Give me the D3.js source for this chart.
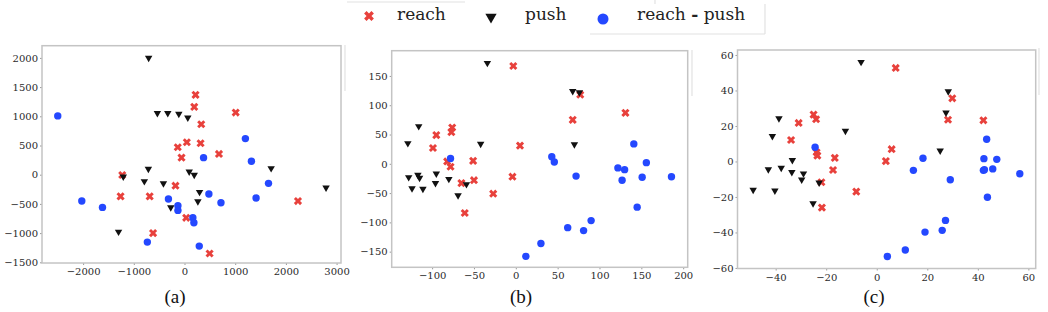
<!DOCTYPE html>
<meta charset="utf-8" />
<script src="https://cdn.jsdelivr.net/npm/d3@7"></script>
<style>
  body { margin: 0; background: #fff; }
</style>
<div id="chart"></div>
<script>
  // t-SNE-like embeddings, one triple of series per panel
  var aReach = [[-1228,-5],[-178,-188],[-1261,-371],[-687,-371],[-620,-1000],[-133,470],[218,1367],[192,1161],[1010,1064],[330,864],[46,556],[317,539],[-59,292],[680,355],[2238,-451],[33,-738],[495,-1349]];
  var aPush = [[-707,2000],[-535,1053],[-330,1053],[-713,98],[-1208,-34],[-792,-113],[-416,-148],[-271,-560],[-1301,-978],[-112,1041],[65,978],[1709,110],[93,51],[192,-5],[2792,-223],[297,-297],[264,-457]];
  var aDiff = [[-2500,1007],[-2026,-451],[-1618,-560],[-317,-417],[-130,-532],[-130,-611],[-733,-1154],[1201,618],[376,292],[1320,230],[1657,-148],[481,-331],[1412,-400],[719,-480],[165,-738],[185,-823],[291,-1223]];

  var bReach = [[-3,167],[-76,62],[-77,54],[-95,49],[-99,27],[5,31],[-82,4],[-78,-5],[-51,5],[-4,-22],[-50,-28],[-65,-33],[-27,-51],[-61,-84],[77,118],[131,87],[68,75]];
  var bPush = [[-34,172],[-116,64],[-129,35],[-42,34],[-128,-23],[-117,-19],[-115,-24],[-95,-17],[-80,-26],[-96,-33],[-124,-42],[-111,-43],[-59,-35],[-69,-54],[68,124],[76,122],[70,33]];
  var bDiff = [[-78,9],[141,34],[43,12],[46,3],[156,2],[122,-7],[130,-10],[72,-21],[151,-23],[186,-22],[127,-28],[145,-74],[90,-97],[62,-109],[81,-114],[30,-136],[12,-158]];

  var cReach = [[-25,26.4],[-24,23.8],[-30.9,21.7],[-33.9,12.1],[-23.8,5.2],[-23.5,3.3],[-16.6,2],[-17.3,-4.8],[-21.9,-11.7],[-8.1,-17],[-21.7,-26],[7.5,52.7],[29.9,35.6],[28.2,23.5],[42.2,23.2],[5.9,6.9],[3.6,0.2]];
  var cPush = [[-6.2,56],[-38.7,24.3],[-41.3,14.3],[-12.4,17.2],[-33.4,0.7],[-42.9,-4.5],[-37.8,-3.6],[-33.6,-6],[-29,-6.8],[-29.7,-10.3],[-22.8,-11.9],[-48.9,-16],[-40.3,-16.4],[-25.2,-23.6],[28.3,39.5],[27.4,27.5],[25.1,6.1]];
  var cDiff = [[-24.4,8],[43.5,12.5],[18.3,1.8],[42.4,1.6],[47.5,1.2],[14.5,-5],[42.2,-5],[45.9,-4.2],[56.6,-6.9],[29.1,-10.3],[43.8,-20.2],[27.2,-33.2],[25.9,-38.8],[19.1,-39.8],[11.3,-49.9],[4.2,-53.5],[42.6,-4.6]];

  var aXTicks = [-2000, -1000, 0, 1000, 2000, 3000];
  var aYTicks = [-1500, -1000, -500, 0, 500, 1000, 1500, 2000];
  var bXTicks = [-100, -50, 0, 50, 100, 150, 200];
  var bYTicks = [-150, -100, -50, 0, 50, 100, 150];
  var cXTicks = [-40, -20, 0, 20, 40, 60];
  var cYTicks = [-60, -40, -20, 0, 20, 40, 60];

  var legendLabels = ['reach', 'push', 'reach - push'];
  var captions = ['(a)', '(b)', '(c)'];

  var width = 1048, height = 312;
  var red = '#e8413c', black = '#111111', blue = '#2448ff';

  var svg = d3.select('#chart').append('svg')
    .attr('width', width)
    .attr('height', height);

  var panels = [
    { reach: aReach, push: aPush, diff: aDiff, xt: aXTicks, yt: aYTicks,
      box: [42, 341, 45.7, 263], xd: [-2811, 3087], yd: [-1512, 2209], cap: captions[0], cx: 175 },
    { reach: bReach, push: bPush, diff: bDiff, xt: bXTicks, yt: bYTicks,
      box: [391.7, 687.7, 50.7, 267.3], xd: [-148.3, 205.4], yd: [-176.7, 193.1], cap: captions[1], cx: 521 },
    { reach: cReach, push: cPush, diff: cDiff, xt: cXTicks, yt: cYTicks,
      box: [737.5, 1035.7, 50, 268.5], xd: [-55.1, 62.9], yd: [-60.3, 62.8], cap: captions[2], cx: 874 }
  ];

  var fmt = function (d) { return d < 0 ? '\u2212' + Math.abs(d) : String(d); };

  var crossPath = d3.symbol().type(d3.symbolCross).size(42)();
  var triPath = d3.symbol().type(d3.symbolTriangle).size(24)();

  panels.forEach(function (p) {
    var x = d3.scaleLinear().domain(p.xd).range([p.box[0], p.box[1]]);
    var y = d3.scaleLinear().domain(p.yd).range([p.box[3], p.box[2]]);

    var gx = svg.append('g')
      .attr('transform', 'translate(0,' + p.box[3] + ')')
      .call(d3.axisBottom(x).tickValues(p.xt).tickFormat(fmt).tickSize(2).tickPadding(3));
    var gy = svg.append('g')
      .attr('transform', 'translate(' + p.box[0] + ',0)')
      .call(d3.axisLeft(y).tickValues(p.yt).tickFormat(fmt).tickSize(2).tickPadding(2));
    [gx, gy].forEach(function (g) {
      g.select('.domain').remove();
      g.selectAll('line').attr('stroke', '#999');
      g.selectAll('text')
        .style('font-family', 'DejaVu Serif')
        .style('font-size', '10px')
        .attr('fill', '#2a2a2a');
    });

    // frame
    svg.append('rect')
      .attr('x', p.box[0]).attr('y', p.box[2])
      .attr('width', p.box[1] - p.box[0]).attr('height', p.box[3] - p.box[2])
      .attr('fill', 'none')
      .attr('stroke', '#c4c4c4')
      .attr('stroke-width', 1.5);

    svg.append('g').selectAll('path')
      .data(p.reach).enter().append('path')
      .attr('d', crossPath)
      .attr('transform', function (d) { return 'translate(' + x(d[0]) + ',' + y(d[1]) + ')rotate(45)'; })
      .attr('fill', red);

    svg.append('g').selectAll('path')
      .data(p.push).enter().append('path')
      .attr('d', triPath)
      .attr('transform', function (d) { return 'translate(' + x(d[0]) + ',' + y(d[1]) + ')rotate(180)'; })
      .attr('fill', black);

    svg.append('g').selectAll('circle')
      .data(p.diff).enter().append('circle')
      .attr('cx', function (d) { return x(d[0]); })
      .attr('cy', function (d) { return y(d[1]); })
      .attr('r', 3.7)
      .attr('fill', blue);

    svg.append('text')
      .attr('x', p.cx).attr('y', 303)
      .attr('text-anchor', 'middle')
      .style('font-family', 'Liberation Serif')
      .style('font-size', '19px')
      .attr('fill', '#111')
      .text(p.cap);
  });

  // faint leftover legend box edges
  var faint = '#e2e2e2';
  [[345, 45, 345, 91], [692, 50, 692, 96], [1039, 48, 1039, 95],
   [347, 2, 465, 2], [590, 34, 765, 34], [765, 4, 765, 34], [655, 0, 655, 4]].forEach(function (l) {
    svg.append('line')
      .attr('x1', l[0]).attr('y1', l[1]).attr('x2', l[2]).attr('y2', l[3])
      .attr('stroke', faint).attr('stroke-width', 1.2);
  });

  // legend
  var legend = svg.append('g');
  var bigCross = d3.symbol().type(d3.symbolCross).size(60)();
  var bigTri = d3.symbol().type(d3.symbolTriangle).size(55)();
  legend.append('path').attr('d', bigCross)
    .attr('transform', 'translate(369,16)rotate(45)').attr('fill', red);
  legend.append('path').attr('d', bigTri)
    .attr('transform', 'translate(491,17)rotate(180)').attr('fill', black);
  legend.append('circle').attr('cx', 603).attr('cy', 19).attr('r', 5.5).attr('fill', blue);

  var lx = [397, 525, 637];
  legend.selectAll('text')
    .data(legendLabels).enter().append('text')
    .attr('x', function (d, i) { return lx[i]; })
    .attr('y', 20)
    .style('font-family', 'DejaVu Serif')
    .style('font-size', '17px')
    .attr('fill', '#222')
    .each(function (d) {
      var t = d3.select(this);
      var parts = d.split(' - ');
      if (parts.length === 2) {
        t.append('tspan').text(parts[0] + ' ');
        t.append('tspan').style('font-weight', 'bold').text('-');
        t.append('tspan').text(' ' + parts[1]);
      } else {
        t.text(d);
      }
    });
</script>
